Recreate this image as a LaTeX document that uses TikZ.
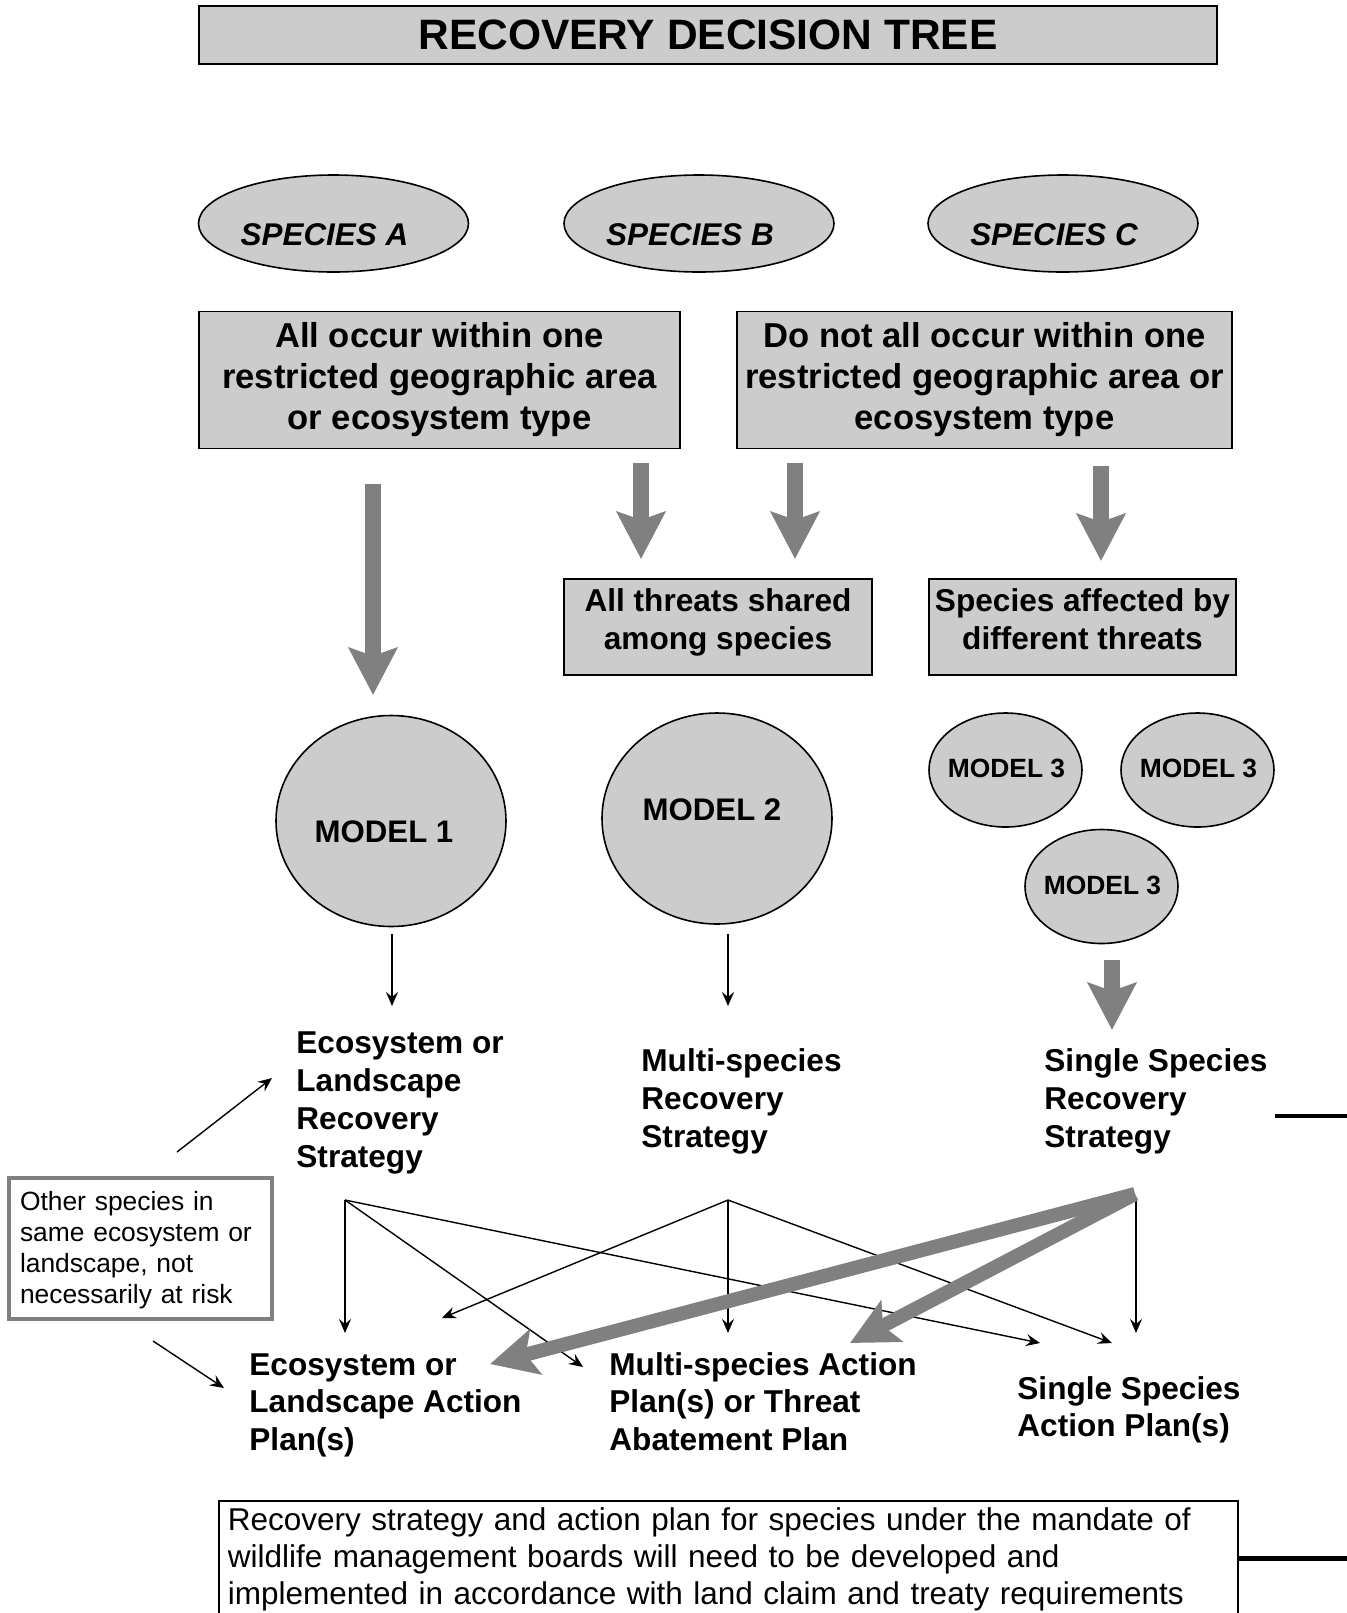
\documentclass[tikz,border=0pt]{standalone}
\usepackage{fontspec}
\setmainfont{Liberation Sans}
\usetikzlibrary{arrows.meta,shapes.geometric}
\definecolor{boxgray}{HTML}{CCCCCC}
\definecolor{arrgray}{HTML}{808080}
\newcommand\ctext[3]{\raisebox{#2}[0pt][0pt]{\makebox[0pt]{\hspace*{#1}#3}}}
\begin{document}
\begin{tikzpicture}[x=0.5pt,y=-0.5pt,
  graybox/.style={draw=black, line width=0.8pt, fill=boxgray, rectangle, inner sep=0pt, align=center},
  oval/.style={draw=black, line width=0.8pt, fill=boxgray, ellipse, inner sep=0pt},
  bigarrow/.style={draw=arrgray, line width=8pt, -{Stealth[length=23.5pt,width=24pt,inset=4pt]}},
  diagarrow/.style={draw=arrgray, line width=7pt, -{Stealth[length=23.5pt,width=23pt,inset=5pt]}},
  thinarrow/.style={draw=black, line width=0.7pt, -{Stealth[length=7pt,width=6pt,inset=2.5pt]}},
  lbl/.style={anchor=base west, inner sep=0pt},
  boldtxt/.style={font=\fontsize{15.8}{19}\selectfont\bfseries},
  spfont/.style={font=\fontsize{15.7}{19}\selectfont\bfseries\itshape},
]
\useasboundingbox (0,0) rectangle (1347,1613);
\clip (0,0) rectangle (1347,1613);

% title
\node[graybox, line width=1pt, minimum width=509pt, minimum height=29pt,
      font=\fontsize{21.25}{25}\selectfont\bfseries] (title) at (708,35) {RECOVERY DECISION TREE};

% species
\node[oval, spfont, minimum width=135pt, minimum height=48.5pt] (spA) at (333.5,223.5) {\ctext{-9pt}{-11.1pt}{SPECIES A}};
\node[oval, spfont, minimum width=135pt, minimum height=48.5pt] (spB) at (699,223.5) {\ctext{-9pt}{-11.1pt}{SPECIES B}};
\node[oval, spfont, minimum width=135pt, minimum height=48.5pt] (spC) at (1063,223.5) {\ctext{-9pt}{-11.1pt}{SPECIES C}};

% decision boxes
\node[graybox, minimum width=240.5pt, minimum height=68.5pt,
      font=\fontsize{17.3}{20.5}\selectfont\bfseries] (occ) at (439.5,380)
      {All occur within one\\restricted geographic area\\or ecosystem type};
\node[graybox, minimum width=247.5pt, minimum height=68.5pt,
      font=\fontsize{17.3}{20.5}\selectfont\bfseries] (nocc) at (984.5,380)
      {Do not all occur within one\\restricted geographic area or\\ecosystem type};
\node[graybox, minimum width=154pt, minimum height=48pt,
      font=\fontsize{15.8}{19}\selectfont\bfseries] (shared) at (718,627)
      {All threats shared\\among species\rule[-8pt]{0pt}{8pt}};
\node[graybox, minimum width=153.5pt, minimum height=48pt,
      font=\fontsize{15.8}{19}\selectfont\bfseries] (diff) at (1082.5,627)
      {Species affected by\\different threats\rule[-8pt]{0pt}{8pt}};

% models
\node[oval, minimum width=115pt, minimum height=105.5pt, font=\fontsize{15.6}{19}\selectfont\bfseries] (m1) at (391,821) {\ctext{-7pt}{-10.6pt}{MODEL 1}};
\node[oval, minimum width=115pt, minimum height=105.5pt, font=\fontsize{15.6}{19}\selectfont\bfseries] (m2) at (717,818.5) {\ctext{-5pt}{-1.1pt}{MODEL 2}};
\node[oval, minimum width=76.5pt, minimum height=57pt, font=\fontsize{13.2}{16}\selectfont\bfseries] (m3a) at (1005.5,770) {\ctext{1pt}{-3.8pt}{MODEL 3}};
\node[oval, minimum width=76.5pt, minimum height=57pt, font=\fontsize{13.2}{16}\selectfont\bfseries] (m3b) at (1197.5,770) {\ctext{1pt}{-3.8pt}{MODEL 3}};
\node[oval, minimum width=76.5pt, minimum height=57pt, font=\fontsize{13.2}{16}\selectfont\bfseries] (m3c) at (1101.5,886.5) {\ctext{1pt}{-3.8pt}{MODEL 3}};

% strategies
\node[lbl, boldtxt] (ecoS) at (296,1053) {\parbox[t]{150pt}{\raggedright Ecosystem or\\Landscape\\Recovery\\Strategy}};
\node[lbl, boldtxt] (multiS) at (641,1071) {\parbox[t]{150pt}{\raggedright Multi-species\\Recovery\\Strategy}};
\node[lbl, boldtxt] (singleS) at (1044,1071) {\parbox[t]{150pt}{\raggedright Single Species\\Recovery\\Strategy}};

% action plans
\node[lbl, font=\fontsize{15.8}{18.75}\selectfont\bfseries] (ecoA) at (249,1375) {\parbox[t]{160pt}{\raggedright Ecosystem or\\Landscape Action\\Plan(s)}};
\node[lbl, font=\fontsize{15.8}{18.75}\selectfont\bfseries] (multiA) at (609,1375) {\parbox[t]{170pt}{\raggedright Multi-species Action\\Plan(s) or Threat\\Abatement Plan}};
\node[lbl, font=\fontsize{15.8}{18.75}\selectfont\bfseries] (singleA) at (1017,1399) {\parbox[t]{150pt}{\raggedright Single Species\\Action Plan(s)}};

% other species box
\node[draw=arrgray, fill=white, line width=2pt, minimum width=131.5pt, minimum height=70.5pt,
      inner xsep=5.5pt, inner ysep=0pt, text width=120.5pt, align=left,
      font=\fontsize{13.2}{15.5}\selectfont] (other) at (140.5,1248.5)
      {\rule{0pt}{11.6pt}Other species in\\same ecosystem or\\landscape, not\\necessarily at risk};

% note box
\node[draw=black, line width=0.8pt, anchor=north west, inner xsep=4.5pt, inner ysep=3.5pt,
      text width=500.5pt, align=left, font=\fontsize{15.75}{18.5}\selectfont] (note) at (218,1500)
      {Recovery strategy and action plan for species under the mandate of\\wildlife management boards will need to be developed and\\implemented in accordance with land claim and treaty requirements};

% coordinates
\coordinate (a1s) at (373,484);   \coordinate (a1e) at (373,695);
\coordinate (a2s) at (641,463);   \coordinate (a2e) at (641,559);
\coordinate (a3s) at (795,463);   \coordinate (a3e) at (795,559);
\coordinate (a4s) at (1101,466);  \coordinate (a4e) at (1101,561);
\coordinate (a5s) at (1112,960);  \coordinate (a5e) at (1112,1030);
\coordinate (m1s) at (392,934);   \coordinate (m1e) at (392,1006);
\coordinate (m2s) at (728,934);   \coordinate (m2e) at (728,1006);
\coordinate (eSrc) at (345,1200);
\coordinate (mSrc) at (728,1200);
\coordinate (sSrc) at (1136,1197);
\coordinate (gSrc) at (1135,1194);
\coordinate (eDown) at (345,1333);
\coordinate (eToM) at (583,1367);
\coordinate (eToS) at (1040,1343);
\coordinate (mToE) at (442,1318);
\coordinate (mDown) at (728,1333);
\coordinate (mToS) at (1112,1343);
\coordinate (sDown) at (1136,1333);
\coordinate (gToE) at (490,1364);
\coordinate (gToM) at (850,1343);
\coordinate (oUpS) at (177,1152);  \coordinate (oUpE) at (272,1078);
\coordinate (oDnS) at (153,1341);  \coordinate (oDnE) at (224,1388);
\coordinate (r1a) at (1275,1116);  \coordinate (r1b) at (1347,1116);
\coordinate (r2a) at (1238,1558);  \coordinate (r2b) at (1347,1558);

% big gray arrows
\draw[bigarrow] (a1s) -- (a1e);
\draw[bigarrow] (a2s) -- (a2e);
\draw[bigarrow] (a3s) -- (a3e);
\draw[bigarrow] (a4s) -- (a4e);
\draw[bigarrow] (a5s) -- (a5e);

% thin arrows
\draw[thinarrow] (m1s) -- (m1e);
\draw[thinarrow] (m2s) -- (m2e);
\draw[thinarrow] (oUpS) -- (oUpE);
\draw[thinarrow] (oDnS) -- (oDnE);
\draw[thinarrow] (eSrc) -- (eDown);
\draw[thinarrow] (eSrc) -- (eToM);
\draw[thinarrow] (eSrc) -- (eToS);
\draw[thinarrow] (mSrc) -- (mToE);
\draw[thinarrow] (mSrc) -- (mDown);
\draw[thinarrow] (mSrc) -- (mToS);
\draw[thinarrow] (sSrc) -- (sDown);

% diagonal gray arrows
\draw[diagarrow] (gSrc) -- (gToE);
\draw[diagarrow] (gSrc) -- (gToM);

% stray black lines at right edge
\draw[line width=2.3pt] (r1a) -- (r1b);
\draw[line width=2.5pt] (r2a) -- (r2b);
\end{tikzpicture}
\end{document}
